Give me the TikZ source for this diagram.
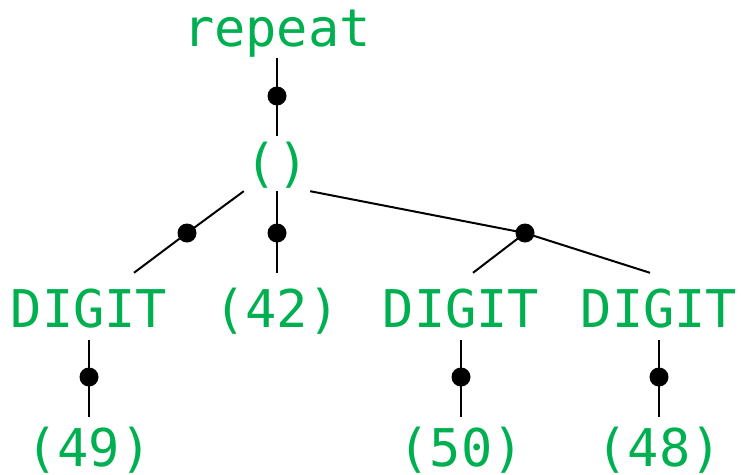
\documentclass[tikz,border=0pt]{standalone}
\usepackage{fontspec}
\newfontfamily\treefont{DejaVu Sans Mono}
\definecolor{termgreen}{RGB}{0,176,80}
\begin{document}
\begin{tikzpicture}[x=1pt,y=-1pt,
  lbl/.style={font=\treefont\fontsize{52}{60}\selectfont, text=termgreen,
              anchor=base, inner xsep=1.7pt, inner ysep=0pt},
  toprow/.style={text height=34pt, text depth=12pt},
  midrow/.style={text height=45pt, text depth=10pt},
  digrow/.style={text height=54pt, text depth=13pt},
  leafrow/.style={text height=49pt, text depth=8pt},
  junction/.style={circle, fill=black, inner sep=0pt, minimum size=19pt},
  edge/.style={line width=2pt, draw=black}]
\useasboundingbox (0,0) rectangle (741,474);

% labels
\node[lbl, toprow]  (rep)  at (277,46)  {repeat};
\node[lbl, midrow]  (par)  at (277,181) {()};
\node[lbl, digrow]  (dA)   at (89,327)  {DIGIT};
\node[lbl, digrow]  (n42)  at (277,327) {(42)};
\node[lbl, digrow]  (dB)   at (461,327) {DIGIT};
\node[lbl, digrow]  (dC)   at (659,327) {DIGIT};
\node[lbl, leafrow] (vA)   at (89,466)  {(49)};
\node[lbl, leafrow] (vB)   at (461,466) {(50)};
\node[lbl, leafrow] (vC)   at (659,466) {(48)};

% junction dots
\node[junction] (j0) at (277,96)  {};
\node[junction] (j1) at (187,233) {};
\node[junction] (j2) at (277,233) {};
\node[junction] (j3) at (525,233) {};
\node[junction] (k1) at (89,377)  {};
\node[junction] (k2) at (461,377) {};
\node[junction] (k3) at (659,377) {};

% connectors
\draw[edge] (rep.south) -- (j0.center) -- (par.north);
\draw[edge] (par.south west) -- (j1.center) -- ([xshift=45pt]dA.north);
\draw[edge] (par.south) -- (j2.center) -- (n42.north);
\draw[edge] (par.south east) -- (j3.center) -- ([xshift=12pt]dB.north);
\draw[edge] (j3.center) -- ([xshift=-9pt]dC.north);
\draw[edge] (dA.south) -- (k1.center) -- (vA.north);
\draw[edge] (dB.south) -- (k2.center) -- (vB.north);
\draw[edge] (dC.south) -- (k3.center) -- (vC.north);
\end{tikzpicture}
\end{document}
